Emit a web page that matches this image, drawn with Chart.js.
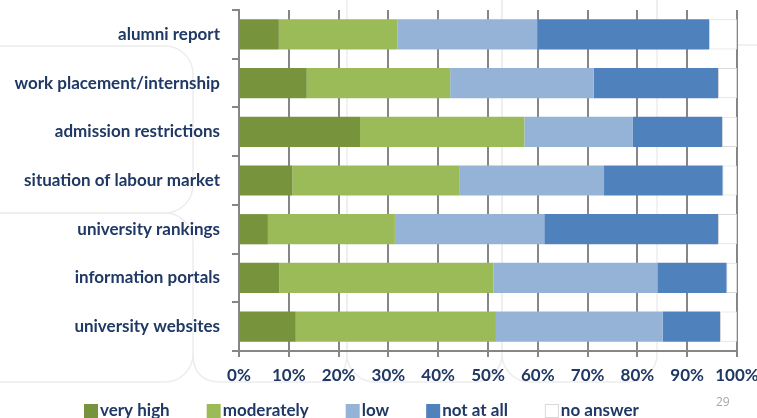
<!DOCTYPE html>
<html>
<head>
<meta charset="utf-8">
<script src="https://cdn.jsdelivr.net/npm/chart.js@4.4.1/dist/chart.umd.min.js"></script>
<style>
  body { margin: 0; background: #fff; }
  #wrap { position: relative; width: 757px; height: 418px; overflow: hidden; }
  #bg { position: absolute; left: 0; top: 0; }
  #chart { position: absolute; left: 0; top: 0; }
  #page { position: absolute; left: 716px; top: 393px; font: 12px "Open Sans", sans-serif; color: #a6a6a6; }
</style>
</head>
<body>
<div id="wrap">
  <svg id="bg" width="757" height="418">
    <g fill="none" stroke="#ededed" stroke-width="1.5">
      <rect x="-30" y="46" width="223" height="167" rx="28"/>
      <rect x="-30" y="213" width="223" height="169" rx="28"/>
      <path d="M193 354 Q193 382 221 382 L319 382 Q347 382 347 354 L347 200"/>
      <rect x="347" y="-60" width="155" height="442" rx="28"/>
      <rect x="502" y="-60" width="155" height="442" rx="28"/>
      <rect x="657" y="-60" width="150" height="105" rx="28"/>
    </g>
  </svg>
  <canvas id="chart" width="757" height="418"></canvas>
  <div id="page">29</div>
</div>
<script>
const categories = [
  'alumni report',
  'work placement/internship',
  'admission restrictions',
  'situation of labour market',
  'university rankings',
  'information portals',
  'university websites'
];
const veryHigh   = [8.0, 13.6, 24.3, 10.7, 5.8, 8.1, 11.4];
const moderately = [23.8, 28.8, 33.0, 33.5, 25.5, 43.0, 40.2];
const low        = [28.1, 28.8, 21.8, 29.1, 30.0, 32.9, 33.5];
const notAtAll   = [34.5, 25.0, 17.9, 23.8, 34.9, 13.9, 11.5];
const noAnswer   = [5.6, 3.8, 3.0, 2.9, 3.8, 2.1, 3.4];
const xTicks = [0, 10, 20, 30, 40, 50, 60, 70, 80, 90, 100];

const navy = '#1F3864';
const gridGrey = '#868686';
const labelFont = { family: 'Lato, "Open Sans", sans-serif', size: 17, weight: 'bold' };

// legend drawn under the axis, the way the slide has it
const bottomLegend = {
  id: 'bottomLegend',
  afterDraw(chart) {
    const ctx = chart.ctx;
    ctx.save();
    ctx.font = 'bold 17px Lato, "Open Sans", sans-serif';
    ctx.textBaseline = 'middle';
    let x = 84;
    const y = 411;
    chart.data.datasets.forEach(ds => {
      ctx.fillStyle = ds.backgroundColor;
      ctx.fillRect(x, y - 7, 14, 14);
      if (ds.borderWidth) {
        ctx.strokeStyle = ds.borderColor;
        ctx.lineWidth = 1;
        ctx.strokeRect(x + 0.5, y - 6.5, 13, 13);
      }
      ctx.fillStyle = navy;
      ctx.fillText(ds.label, x + 16, y);
      x += 16 + ctx.measureText(ds.label).width + 37;
    });
    ctx.restore();
  }
};

const mk = (label, data, color, extra) => Object.assign({
  label, data, backgroundColor: color, borderWidth: 0,
  categoryPercentage: 1, barPercentage: 0.62
}, extra || {});

new Chart(document.getElementById('chart'), {
  type: 'bar',
  data: {
    labels: categories,
    datasets: [
      mk('very high', veryHigh, '#77933C'),
      mk('moderately', moderately, '#9BBB59'),
      mk('low', low, '#95B3D7'),
      mk('not at all', notAtAll, '#4F81BD'),
      mk('no answer', noAnswer, '#FFFFFF', { borderColor: '#d9d9d9', borderWidth: 1, borderSkipped: false })
    ]
  },
  plugins: [bottomLegend],
  options: {
    indexAxis: 'y',
    responsive: false,
    animation: false,
    layout: { padding: { top: 10, right: 20, left: 0, bottom: 0 } },
    plugins: { legend: { display: false }, tooltip: { enabled: false } },
    scales: {
      x: {
        stacked: true,
        min: 0, max: 100,
        afterBuildTicks: s => { s.ticks = xTicks.map(v => ({ value: v })); },
        afterFit: s => { s.height = 67; s.paddingLeft = 0; s.paddingRight = 0; },
        ticks: { callback: v => v + '%', color: navy, font: labelFont, padding: 8 },
        grid: { color: gridGrey, lineWidth: 2, tickLength: 6 },
        border: { color: gridGrey, width: 2 }
      },
      y: {
        stacked: true,
        afterFit: s => { s.width = 239; s.paddingTop = 0; s.paddingBottom = 0; },
        ticks: { color: navy, font: labelFont, padding: 12 },
        grid: { drawOnChartArea: false, color: gridGrey, lineWidth: 2, tickLength: 7 },
        border: { color: gridGrey, width: 2 }
      }
    }
  }
});
</script>
</body>
</html>
